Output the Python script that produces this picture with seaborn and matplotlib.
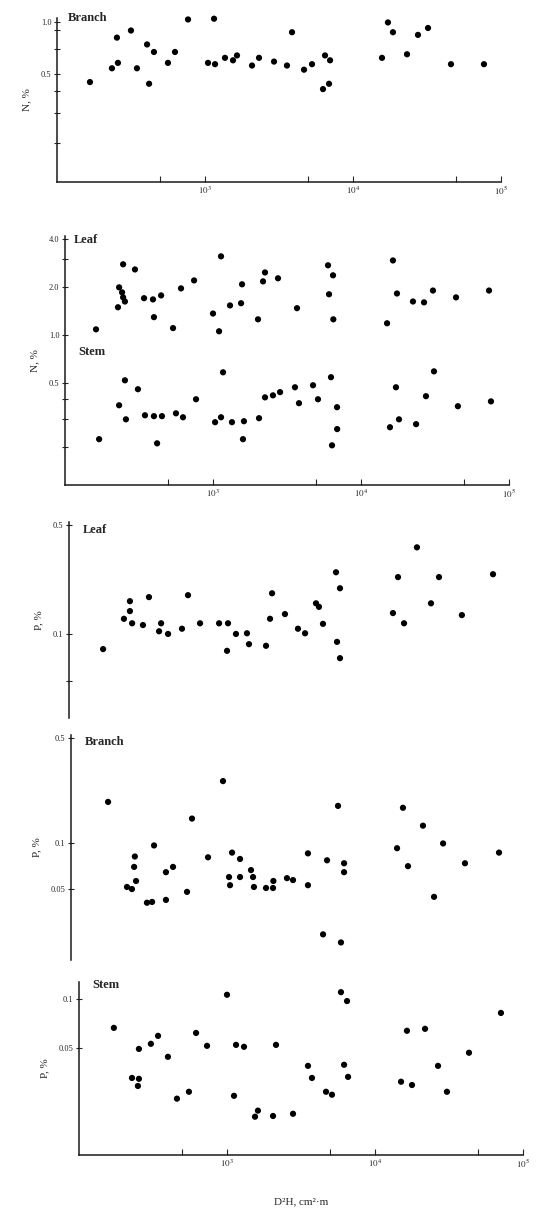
import matplotlib
matplotlib.use("Agg")
import matplotlib.pyplot as plt
from matplotlib.ticker import NullFormatter, FixedLocator
import seaborn as sns
import pandas as pd

# D2H (cm2*m) and nutrient content (%)
branch_n_x = [167, 235, 254, 258, 316, 347, 406, 419, 452, 562, 627, 768, 1048, 1151, 1169,
              1365, 1546, 1645, 2078, 2317, 2926, 3580, 3873, 4667, 5285, 6270, 6471, 6887,
              6998, 15700, 17220, 18620, 23170, 27480, 32130, 45920, 76700]
branch_n_y = [0.45, 0.54, 0.81, 0.58, 0.89, 0.54, 0.74, 0.44, 0.67, 0.58, 0.67, 1.03, 0.58,
              1.04, 0.57, 0.62, 0.60, 0.64, 0.56, 0.62, 0.59, 0.56, 0.87, 0.53, 0.57, 0.41,
              0.64, 0.44, 0.60, 0.62, 0.99, 0.87, 0.65, 0.84, 0.92, 0.57, 0.57]

leaf_n_x = [162, 228, 232, 243, 247, 254, 247, 297, 342, 393, 446, 399, 537, 608, 745, 1000,
            1099, 1133, 1303, 1547, 1571, 2014, 2178, 2246, 2749, 3695, 5986, 6083, 6471, 6500,
            15000, 16440, 17500, 22440, 26660, 30630, 43850, 73280]
leaf_n_y = [1.09, 1.50, 2.00, 1.86, 1.73, 1.63, 2.79, 2.59, 1.71, 1.68, 1.78, 1.30, 1.11,
            1.97, 2.21, 1.37, 1.06, 3.13, 1.54, 1.59, 2.09, 1.26, 2.18, 2.48, 2.28, 1.48,
            2.75, 1.81, 2.38, 1.26, 1.19, 2.95, 1.83, 1.63, 1.61, 1.91, 1.73, 1.91]

stem_n_x = [170, 232, 254, 258, 311, 347, 399, 452, 419, 562, 627, 768, 1033, 1133, 1169,
            1343, 1618, 1594, 2046, 2246, 2541, 2838, 3580, 3810, 4740, 5120, 6270, 6370,
            6887, 6900, 15700, 17220, 18060, 23560, 27480, 31120, 45150, 75520]
stem_n_y = [0.223, 0.364, 0.522, 0.297, 0.459, 0.315, 0.311, 0.311, 0.210, 0.324, 0.306,
            0.397, 0.285, 0.306, 0.586, 0.285, 0.289, 0.223, 0.302, 0.408, 0.420, 0.440,
            0.472, 0.375, 0.486, 0.397, 0.546, 0.204, 0.354, 0.258, 0.265, 0.472, 0.297,
            0.277, 0.415, 0.594, 0.359, 0.385]

leaf_p_x = [170, 235, 258, 258, 267, 316, 347, 406, 419, 467, 580, 637, 768, 1033, 1169,
            1187, 1343, 1594, 1645, 2143, 2282, 2355, 2879, 3524, 3936, 4667, 4887, 5200,
            6370, 6471, 6776, 6776, 15450, 16710, 18360, 22440, 27920, 31620, 45150, 73280]
leaf_p_y = [0.080, 0.125, 0.162, 0.140, 0.117, 0.114, 0.172, 0.104, 0.117, 0.100, 0.108,
            0.177, 0.117, 0.117, 0.078, 0.117, 0.100, 0.101, 0.086, 0.084, 0.125, 0.182,
            0.134, 0.108, 0.101, 0.157, 0.149, 0.116, 0.248, 0.089, 0.196, 0.070, 0.136,
            0.231, 0.117, 0.358, 0.157, 0.231, 0.132, 0.241]

branch_p_x = [178, 239, 258, 270, 267, 275, 326, 353, 364, 438, 438, 489, 608, 657, 843,
              1064, 1169, 1187, 1225, 1387, 1387, 1645, 1698, 1722, 2078, 2317, 2330, 2879,
              3162, 3990, 3990, 5047, 5370, 6370, 6670, 6998, 6998, 15960, 17500, 18920,
              23880, 28380, 32670, 45920, 77980]
branch_p_y = [0.188, 0.0516, 0.050, 0.082, 0.070, 0.0565, 0.0406, 0.0411, 0.097, 0.0646,
              0.0424, 0.070, 0.0479, 0.146, 0.081, 0.258, 0.060, 0.053, 0.087, 0.079, 0.060,
              0.0667, 0.060, 0.0516, 0.0508, 0.0508, 0.0565, 0.059, 0.0573, 0.086, 0.053,
              0.0251, 0.0774, 0.177, 0.0222, 0.074, 0.0646, 0.093, 0.172, 0.0708, 0.131,
              0.0444, 0.100, 0.074, 0.087]

stem_p_x = [172, 228, 250, 254, 254, 306, 342, 399, 459, 553, 618, 733, 1000, 1115, 1151,
            1303, 1546, 1618, 2046, 2143, 2793, 3524, 3750, 4667, 5120, 5888, 6471, 6180,
            6577, 15000, 16440, 17780, 21780, 26660, 30630, 43150, 70960]
stem_p_y = [0.0664, 0.0327, 0.0292, 0.0323, 0.0493, 0.0530, 0.0593, 0.0441, 0.0244, 0.0269,
            0.0618, 0.0515, 0.106, 0.0254, 0.0522, 0.0508, 0.0189, 0.0206, 0.0191, 0.0522,
            0.0197, 0.0388, 0.0327, 0.0269, 0.0258, 0.110, 0.097, 0.0394, 0.0332, 0.0310,
            0.0637, 0.0296, 0.0655, 0.0388, 0.0269, 0.0467, 0.082]

x_major = [1e3, 1e4, 1e5]
x_major_labels = [r"$10^3$", r"$10^4$", r"$10^5$"]
x_minor = [500, 5000, 50000]

sns.set_style("ticks")
plt.rcParams["font.family"] = ["Liberation Serif", "DejaVu Serif"]
plt.rcParams["mathtext.fontset"] = "stix"

W, H = 552, 1212
fig = plt.figure(figsize=(W / 100, H / 100), dpi=100)


def make_ax(left, top, right, bottom):
    return fig.add_axes([left / W, 1 - bottom / H, (right - left) / W, (bottom - top) / H])


def setup(ax, ylim, yticks, ylabels, yminor, ylabel, show_x):
    ax.set_xscale("log")
    ax.set_yscale("log")
    ax.set_xlim(100, 1e5)
    ax.set_ylim(*ylim)
    sns.despine(ax=ax, top=True, right=True, bottom=not show_x)
    ax.yaxis.set_major_locator(FixedLocator(yticks))
    ax.set_yticklabels(ylabels)
    ax.yaxis.set_minor_locator(FixedLocator(yminor))
    ax.yaxis.set_minor_formatter(NullFormatter())
    ax.tick_params(axis="y", which="both", direction="inout", length=4, width=0.8,
                   labelsize=6, pad=2)
    if show_x:
        ax.xaxis.set_major_locator(FixedLocator(x_major))
        ax.set_xticklabels(x_major_labels)
        ax.xaxis.set_minor_locator(FixedLocator(x_minor))
        ax.xaxis.set_minor_formatter(NullFormatter())
        ax.tick_params(axis="x", which="both", direction="in", length=4, width=0.8,
                       labelsize=6.5, pad=2)
    else:
        ax.set_xticks([])
        ax.set_xticks([], minor=True)
    for s in ax.spines.values():
        s.set_linewidth(1.1)
        s.set_color("#1a1a1a")
    ax.set_ylabel(ylabel, fontsize=8, labelpad=7)
    ax.set_xlabel("")
    ax.patch.set_alpha(0)


def dots(ax, x, y):
    df = pd.DataFrame({"x": x, "y": y})
    sns.scatterplot(data=df, x="x", y="y", ax=ax, color="black", s=20,
                    edgecolor="none", clip_on=False, legend=False)


# Branch N
ax1 = make_ax(57, 18, 501, 182)
dots(ax1, branch_n_x, branch_n_y)
setup(ax1, (0.12, 1.05), [0.5, 1.0], ["0.5", "1.0"], [0.2, 0.3, 0.4, 0.7, 0.9], "N, %", True)
ax1.text(0.025, 1.0, "Branch", transform=ax1.transAxes, fontsize=9, fontweight="bold",
         va="center", ha="left")

# Leaf and Stem N
ax2 = make_ax(65, 236, 509, 485)
dots(ax2, leaf_n_x, leaf_n_y)
dots(ax2, stem_n_x, stem_n_y)
setup(ax2, (0.115, 4.2), [0.5, 1.0, 2.0, 4.0], ["0.5", "1.0", "2.0", "4.0"],
      [0.2, 0.3, 0.4, 3.0], "N, %", True)
ax2.text(0.02, 0.985, "Leaf", transform=ax2.transAxes, fontsize=9, fontweight="bold",
         va="center", ha="left")
ax2.text(0.03, 0.535, "Stem", transform=ax2.transAxes, fontsize=9, fontweight="bold",
         va="center", ha="left")

# Leaf P
ax3 = make_ax(69, 522, 513, 718)
dots(ax3, leaf_p_x, leaf_p_y)
setup(ax3, (0.029, 0.52), [0.1, 0.5], ["0.1", "0.5"], [0.05], "P, %", False)
ax3.text(0.03, 0.96, "Leaf", transform=ax3.transAxes, fontsize=9, fontweight="bold",
         va="center", ha="left")

# Branch P
ax4 = make_ax(71, 735, 515, 960)
dots(ax4, branch_p_x, branch_p_y)
setup(ax4, (0.017, 0.52), [0.05, 0.1, 0.5], ["0.05", "0.1", "0.5"], [], "P, %", False)
ax4.text(0.03, 0.97, "Branch", transform=ax4.transAxes, fontsize=9, fontweight="bold",
         va="center", ha="left")

# Stem P
ax5 = make_ax(79, 982, 523, 1155)
dots(ax5, stem_p_x, stem_p_y)
setup(ax5, (0.011, 0.127), [0.05, 0.1], ["0.05", "0.1"], [], "P, %", True)
ax5.text(0.03, 0.98, "Stem", transform=ax5.transAxes, fontsize=9, fontweight="bold",
         va="center", ha="left")
ax5.set_xlabel("D²H, cm²·m", fontsize=8, labelpad=20)

fig.savefig("out.png", dpi=100)
plt.close(fig)
